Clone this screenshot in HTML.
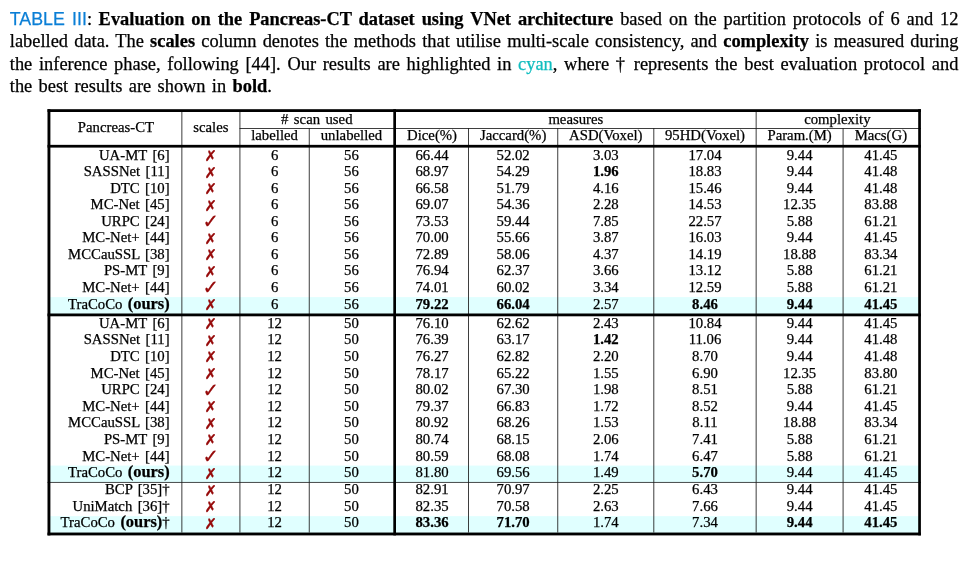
<!DOCTYPE html>
<html lang="en"><head><meta charset="utf-8"><title>Table III</title>
<style>
html,body{margin:0;padding:0;background:#fff;}
body{width:975px;height:562px;position:relative;overflow:hidden;font-family:"Liberation Serif","Times New Roman",Times,serif;color:#000;}
.cap{position:absolute;left:9.8px;width:948.6px;font-size:18.4px;line-height:22.15px;height:22.15px;text-align:justify;text-align-last:justify;white-space:nowrap;}
.cap.last{text-align:left;text-align-last:left;word-spacing:1.7px;}
.sf{font-family:"Liberation Sans",Arial,Helvetica,sans-serif;font-size:17.8px;}
.bl{color:#0b7fd6;}.cy{color:#10bdbf;}
.sp{display:inline-block;width:6.6px;}
.t{position:absolute;font-size:14.75px;line-height:16.6px;height:16.6px;white-space:nowrap;word-spacing:1.7px;}
.c{text-align:center;}.r{text-align:right;}
svg{position:absolute;overflow:visible;}
b{font-weight:bold;}b.o{font-size:16.4px;line-height:0;}
.mx,.mv{position:absolute;font-family:"DejaVu Sans",sans-serif;color:#960909;white-space:nowrap;-webkit-text-stroke:0.4px #960909;}
.mx{left:204.45px;font-size:14.7px;line-height:24px;height:24px;}
.mv{-webkit-text-stroke-width:0.25px;left:202.5px;font-size:19.6px;line-height:24px;height:24px;}
#w{position:absolute;left:0;top:0;width:975px;height:562px;will-change:transform;-webkit-text-stroke-width:0.25px;}
</style></head>
<body><div id="w">
<div class="cap" style="top:8.2px"><span class="sf bl">TABLE III</span>:<span class="sp"></span><b>Evaluation on the Pancreas-CT dataset using VNet architecture</b> based on the partition protocols of 6 and 12</div>
<div class="cap" style="top:30.35px">labelled data. The <b>scales</b> column denotes the methods that utilise multi-scale consistency, and <b>complexity</b> is measured during</div>
<div class="cap" style="top:52.5px">the inference phase, following [44]. Our results are highlighted in <span class="cy">cyan</span>, where &dagger; represents the best evaluation protocol and</div>
<div class="cap last" style="top:74.65px">the best results are shown in <b>bold</b>.</div>
<svg width="975" height="562" style="left:0;top:0" viewBox="0 0 975 562">
<rect x="48.5" y="297.11" width="871.4" height="16.89" fill="#e0ffff"/>
<rect x="48.5" y="465.58" width="871.4" height="16.87" fill="#e0ffff"/>
<rect x="48.5" y="516.15" width="871.4" height="16.9" fill="#e0ffff"/>
<rect x="47.5" y="481.95" width="873.4" height="0.8" fill="#1c1c1c"/>
<rect x="239.5" y="128.05" width="681.4" height="0.85" fill="#1c1c1c"/>
<rect x="181.45" y="112" width="0.85" height="420.55" fill="#1c1c1c"/>
<rect x="239.5" y="112" width="0.85" height="420.55" fill="#1c1c1c"/>
<rect x="755.7" y="112" width="0.85" height="420.55" fill="#1c1c1c"/>
<rect x="308.8" y="128.05" width="0.85" height="404.5" fill="#1c1c1c"/>
<rect x="468.1" y="128.05" width="0.85" height="404.5" fill="#1c1c1c"/>
<rect x="557.35" y="128.05" width="0.85" height="404.5" fill="#1c1c1c"/>
<rect x="653.4" y="128.05" width="0.85" height="404.5" fill="#1c1c1c"/>
<rect x="842.65" y="128.05" width="0.85" height="404.5" fill="#1c1c1c"/>
<rect x="47.5" y="109.2" width="873.4" height="2.8" fill="#000"/>
<rect x="47.5" y="144.85" width="873.4" height="2.75" fill="#000"/>
<rect x="47.5" y="313.5" width="873.4" height="2.8" fill="#000"/>
<rect x="47.5" y="532.55" width="873.4" height="2.85" fill="#000"/>
<rect x="47.5" y="109.2" width="2.9" height="426.2" fill="#000"/>
<rect x="918.2" y="109.2" width="2.7" height="426.2" fill="#000"/>
<rect x="393.3" y="109.2" width="2.7" height="426.2" fill="#000"/>
</svg>
<div class="t c" style="left:50.4px;top:118.72px;width:131.05px">Pancreas-CT</div>
<div class="t c" style="left:182.3px;top:118.72px;width:57.2px">scales</div>
<div class="t c" style="left:240.35px;top:110.62px;width:152.95px"># scan used</div>
<div class="t c" style="left:396px;top:110.62px;width:359.7px">measures</div>
<div class="t c" style="left:756.55px;top:110.62px;width:161.65px">complexity</div>
<div class="t c" style="left:240.35px;top:127.32px;width:68.45px">labelled</div>
<div class="t c" style="left:309.65px;top:127.32px;width:83.65px">unlabelled</div>
<div class="t c" style="left:396px;top:127.32px;width:72.1px">Dice(%)</div>
<div class="t c" style="left:468.95px;top:127.32px;width:88.4px">Jaccard(%)</div>
<div class="t c" style="left:558.2px;top:127.32px;width:95.2px">ASD(Voxel)</div>
<div class="t c" style="left:654.25px;top:127.32px;width:101.45px">95HD(Voxel)</div>
<div class="t c" style="left:756.55px;top:127.32px;width:86.1px">Param.(M)</div>
<div class="t c" style="left:843.5px;top:127.32px;width:74.7px">Macs(G)</div>
<div class="t r" style="left:50.4px;top:146.77px;width:119.25px">UA-MT [6]</div>
<div class="mx" style="top:144.05px">&#10007;</div>
<div class="t c" style="left:240.35px;top:146.77px;width:68.45px">6</div>
<div class="t c" style="left:309.65px;top:146.77px;width:83.65px">56</div>
<div class="t c" style="left:396px;top:146.77px;width:72.1px">66.44</div>
<div class="t c" style="left:468.95px;top:146.77px;width:88.4px">52.02</div>
<div class="t c" style="left:558.2px;top:146.77px;width:95.2px">3.03</div>
<div class="t c" style="left:654.25px;top:146.77px;width:101.45px">17.04</div>
<div class="t c" style="left:756.55px;top:146.77px;width:86.1px">9.44</div>
<div class="t c" style="left:843.5px;top:146.77px;width:74.7px">41.45</div>
<div class="t r" style="left:50.4px;top:163.3px;width:119.25px">SASSNet [11]</div>
<div class="mx" style="top:160.58px">&#10007;</div>
<div class="t c" style="left:240.35px;top:163.3px;width:68.45px">6</div>
<div class="t c" style="left:309.65px;top:163.3px;width:83.65px">56</div>
<div class="t c" style="left:396px;top:163.3px;width:72.1px">68.97</div>
<div class="t c" style="left:468.95px;top:163.3px;width:88.4px">54.29</div>
<div class="t c" style="left:558.2px;top:163.3px;width:95.2px"><b>1.96</b></div>
<div class="t c" style="left:654.25px;top:163.3px;width:101.45px">18.83</div>
<div class="t c" style="left:756.55px;top:163.3px;width:86.1px">9.44</div>
<div class="t c" style="left:843.5px;top:163.3px;width:74.7px">41.48</div>
<div class="t r" style="left:50.4px;top:179.83px;width:119.25px">DTC [10]</div>
<div class="mx" style="top:177.11px">&#10007;</div>
<div class="t c" style="left:240.35px;top:179.83px;width:68.45px">6</div>
<div class="t c" style="left:309.65px;top:179.83px;width:83.65px">56</div>
<div class="t c" style="left:396px;top:179.83px;width:72.1px">66.58</div>
<div class="t c" style="left:468.95px;top:179.83px;width:88.4px">51.79</div>
<div class="t c" style="left:558.2px;top:179.83px;width:95.2px">4.16</div>
<div class="t c" style="left:654.25px;top:179.83px;width:101.45px">15.46</div>
<div class="t c" style="left:756.55px;top:179.83px;width:86.1px">9.44</div>
<div class="t c" style="left:843.5px;top:179.83px;width:74.7px">41.48</div>
<div class="t r" style="left:50.4px;top:196.36px;width:119.25px">MC-Net [45]</div>
<div class="mx" style="top:193.64px">&#10007;</div>
<div class="t c" style="left:240.35px;top:196.36px;width:68.45px">6</div>
<div class="t c" style="left:309.65px;top:196.36px;width:83.65px">56</div>
<div class="t c" style="left:396px;top:196.36px;width:72.1px">69.07</div>
<div class="t c" style="left:468.95px;top:196.36px;width:88.4px">54.36</div>
<div class="t c" style="left:558.2px;top:196.36px;width:95.2px">2.28</div>
<div class="t c" style="left:654.25px;top:196.36px;width:101.45px">14.53</div>
<div class="t c" style="left:756.55px;top:196.36px;width:86.1px">12.35</div>
<div class="t c" style="left:843.5px;top:196.36px;width:74.7px">83.88</div>
<div class="t r" style="left:50.4px;top:212.89px;width:119.25px">URPC [24]</div>
<div class="mv" style="top:210.17px">&#10003;</div>
<div class="t c" style="left:240.35px;top:212.89px;width:68.45px">6</div>
<div class="t c" style="left:309.65px;top:212.89px;width:83.65px">56</div>
<div class="t c" style="left:396px;top:212.89px;width:72.1px">73.53</div>
<div class="t c" style="left:468.95px;top:212.89px;width:88.4px">59.44</div>
<div class="t c" style="left:558.2px;top:212.89px;width:95.2px">7.85</div>
<div class="t c" style="left:654.25px;top:212.89px;width:101.45px">22.57</div>
<div class="t c" style="left:756.55px;top:212.89px;width:86.1px">5.88</div>
<div class="t c" style="left:843.5px;top:212.89px;width:74.7px">61.21</div>
<div class="t r" style="left:50.4px;top:229.42px;width:119.25px">MC-Net+ [44]</div>
<div class="mx" style="top:226.7px">&#10007;</div>
<div class="t c" style="left:240.35px;top:229.42px;width:68.45px">6</div>
<div class="t c" style="left:309.65px;top:229.42px;width:83.65px">56</div>
<div class="t c" style="left:396px;top:229.42px;width:72.1px">70.00</div>
<div class="t c" style="left:468.95px;top:229.42px;width:88.4px">55.66</div>
<div class="t c" style="left:558.2px;top:229.42px;width:95.2px">3.87</div>
<div class="t c" style="left:654.25px;top:229.42px;width:101.45px">16.03</div>
<div class="t c" style="left:756.55px;top:229.42px;width:86.1px">9.44</div>
<div class="t c" style="left:843.5px;top:229.42px;width:74.7px">41.45</div>
<div class="t r" style="left:50.4px;top:245.95px;width:119.25px">MCCauSSL [38]</div>
<div class="mx" style="top:243.23px">&#10007;</div>
<div class="t c" style="left:240.35px;top:245.95px;width:68.45px">6</div>
<div class="t c" style="left:309.65px;top:245.95px;width:83.65px">56</div>
<div class="t c" style="left:396px;top:245.95px;width:72.1px">72.89</div>
<div class="t c" style="left:468.95px;top:245.95px;width:88.4px">58.06</div>
<div class="t c" style="left:558.2px;top:245.95px;width:95.2px">4.37</div>
<div class="t c" style="left:654.25px;top:245.95px;width:101.45px">14.19</div>
<div class="t c" style="left:756.55px;top:245.95px;width:86.1px">18.88</div>
<div class="t c" style="left:843.5px;top:245.95px;width:74.7px">83.34</div>
<div class="t r" style="left:50.4px;top:262.48px;width:119.25px">PS-MT [9]</div>
<div class="mx" style="top:259.76px">&#10007;</div>
<div class="t c" style="left:240.35px;top:262.48px;width:68.45px">6</div>
<div class="t c" style="left:309.65px;top:262.48px;width:83.65px">56</div>
<div class="t c" style="left:396px;top:262.48px;width:72.1px">76.94</div>
<div class="t c" style="left:468.95px;top:262.48px;width:88.4px">62.37</div>
<div class="t c" style="left:558.2px;top:262.48px;width:95.2px">3.66</div>
<div class="t c" style="left:654.25px;top:262.48px;width:101.45px">13.12</div>
<div class="t c" style="left:756.55px;top:262.48px;width:86.1px">5.88</div>
<div class="t c" style="left:843.5px;top:262.48px;width:74.7px">61.21</div>
<div class="t r" style="left:50.4px;top:279.01px;width:119.25px">MC-Net+ [44]</div>
<div class="mv" style="top:276.29px">&#10003;</div>
<div class="t c" style="left:240.35px;top:279.01px;width:68.45px">6</div>
<div class="t c" style="left:309.65px;top:279.01px;width:83.65px">56</div>
<div class="t c" style="left:396px;top:279.01px;width:72.1px">74.01</div>
<div class="t c" style="left:468.95px;top:279.01px;width:88.4px">60.02</div>
<div class="t c" style="left:558.2px;top:279.01px;width:95.2px">3.34</div>
<div class="t c" style="left:654.25px;top:279.01px;width:101.45px">12.59</div>
<div class="t c" style="left:756.55px;top:279.01px;width:86.1px">5.88</div>
<div class="t c" style="left:843.5px;top:279.01px;width:74.7px">61.21</div>
<div class="t r" style="left:50.4px;top:295.54px;width:119.25px">TraCoCo <b class=o>(ours)</b></div>
<div class="mx" style="top:292.82px">&#10007;</div>
<div class="t c" style="left:240.35px;top:295.54px;width:68.45px">6</div>
<div class="t c" style="left:309.65px;top:295.54px;width:83.65px">56</div>
<div class="t c" style="left:396px;top:295.54px;width:72.1px"><b>79.22</b></div>
<div class="t c" style="left:468.95px;top:295.54px;width:88.4px"><b>66.04</b></div>
<div class="t c" style="left:558.2px;top:295.54px;width:95.2px">2.57</div>
<div class="t c" style="left:654.25px;top:295.54px;width:101.45px"><b>8.46</b></div>
<div class="t c" style="left:756.55px;top:295.54px;width:86.1px"><b>9.44</b></div>
<div class="t c" style="left:843.5px;top:295.54px;width:74.7px"><b>41.45</b></div>
<div class="t r" style="left:50.4px;top:314.82px;width:119.25px">UA-MT [6]</div>
<div class="mx" style="top:312.1px">&#10007;</div>
<div class="t c" style="left:240.35px;top:314.82px;width:68.45px">12</div>
<div class="t c" style="left:309.65px;top:314.82px;width:83.65px">50</div>
<div class="t c" style="left:396px;top:314.82px;width:72.1px">76.10</div>
<div class="t c" style="left:468.95px;top:314.82px;width:88.4px">62.62</div>
<div class="t c" style="left:558.2px;top:314.82px;width:95.2px">2.43</div>
<div class="t c" style="left:654.25px;top:314.82px;width:101.45px">10.84</div>
<div class="t c" style="left:756.55px;top:314.82px;width:86.1px">9.44</div>
<div class="t c" style="left:843.5px;top:314.82px;width:74.7px">41.45</div>
<div class="t r" style="left:50.4px;top:331.42px;width:119.25px">SASSNet [11]</div>
<div class="mx" style="top:328.7px">&#10007;</div>
<div class="t c" style="left:240.35px;top:331.42px;width:68.45px">12</div>
<div class="t c" style="left:309.65px;top:331.42px;width:83.65px">50</div>
<div class="t c" style="left:396px;top:331.42px;width:72.1px">76.39</div>
<div class="t c" style="left:468.95px;top:331.42px;width:88.4px">63.17</div>
<div class="t c" style="left:558.2px;top:331.42px;width:95.2px"><b>1.42</b></div>
<div class="t c" style="left:654.25px;top:331.42px;width:101.45px">11.06</div>
<div class="t c" style="left:756.55px;top:331.42px;width:86.1px">9.44</div>
<div class="t c" style="left:843.5px;top:331.42px;width:74.7px">41.48</div>
<div class="t r" style="left:50.4px;top:348.02px;width:119.25px">DTC [10]</div>
<div class="mx" style="top:345.3px">&#10007;</div>
<div class="t c" style="left:240.35px;top:348.02px;width:68.45px">12</div>
<div class="t c" style="left:309.65px;top:348.02px;width:83.65px">50</div>
<div class="t c" style="left:396px;top:348.02px;width:72.1px">76.27</div>
<div class="t c" style="left:468.95px;top:348.02px;width:88.4px">62.82</div>
<div class="t c" style="left:558.2px;top:348.02px;width:95.2px">2.20</div>
<div class="t c" style="left:654.25px;top:348.02px;width:101.45px">8.70</div>
<div class="t c" style="left:756.55px;top:348.02px;width:86.1px">9.44</div>
<div class="t c" style="left:843.5px;top:348.02px;width:74.7px">41.48</div>
<div class="t r" style="left:50.4px;top:364.62px;width:119.25px">MC-Net [45]</div>
<div class="mx" style="top:361.9px">&#10007;</div>
<div class="t c" style="left:240.35px;top:364.62px;width:68.45px">12</div>
<div class="t c" style="left:309.65px;top:364.62px;width:83.65px">50</div>
<div class="t c" style="left:396px;top:364.62px;width:72.1px">78.17</div>
<div class="t c" style="left:468.95px;top:364.62px;width:88.4px">65.22</div>
<div class="t c" style="left:558.2px;top:364.62px;width:95.2px">1.55</div>
<div class="t c" style="left:654.25px;top:364.62px;width:101.45px">6.90</div>
<div class="t c" style="left:756.55px;top:364.62px;width:86.1px">12.35</div>
<div class="t c" style="left:843.5px;top:364.62px;width:74.7px">83.80</div>
<div class="t r" style="left:50.4px;top:381.22px;width:119.25px">URPC [24]</div>
<div class="mv" style="top:378.5px">&#10003;</div>
<div class="t c" style="left:240.35px;top:381.22px;width:68.45px">12</div>
<div class="t c" style="left:309.65px;top:381.22px;width:83.65px">50</div>
<div class="t c" style="left:396px;top:381.22px;width:72.1px">80.02</div>
<div class="t c" style="left:468.95px;top:381.22px;width:88.4px">67.30</div>
<div class="t c" style="left:558.2px;top:381.22px;width:95.2px">1.98</div>
<div class="t c" style="left:654.25px;top:381.22px;width:101.45px">8.51</div>
<div class="t c" style="left:756.55px;top:381.22px;width:86.1px">5.88</div>
<div class="t c" style="left:843.5px;top:381.22px;width:74.7px">61.21</div>
<div class="t r" style="left:50.4px;top:397.82px;width:119.25px">MC-Net+ [44]</div>
<div class="mx" style="top:395.1px">&#10007;</div>
<div class="t c" style="left:240.35px;top:397.82px;width:68.45px">12</div>
<div class="t c" style="left:309.65px;top:397.82px;width:83.65px">50</div>
<div class="t c" style="left:396px;top:397.82px;width:72.1px">79.37</div>
<div class="t c" style="left:468.95px;top:397.82px;width:88.4px">66.83</div>
<div class="t c" style="left:558.2px;top:397.82px;width:95.2px">1.72</div>
<div class="t c" style="left:654.25px;top:397.82px;width:101.45px">8.52</div>
<div class="t c" style="left:756.55px;top:397.82px;width:86.1px">9.44</div>
<div class="t c" style="left:843.5px;top:397.82px;width:74.7px">41.45</div>
<div class="t r" style="left:50.4px;top:414.42px;width:119.25px">MCCauSSL [38]</div>
<div class="mx" style="top:411.7px">&#10007;</div>
<div class="t c" style="left:240.35px;top:414.42px;width:68.45px">12</div>
<div class="t c" style="left:309.65px;top:414.42px;width:83.65px">50</div>
<div class="t c" style="left:396px;top:414.42px;width:72.1px">80.92</div>
<div class="t c" style="left:468.95px;top:414.42px;width:88.4px">68.26</div>
<div class="t c" style="left:558.2px;top:414.42px;width:95.2px">1.53</div>
<div class="t c" style="left:654.25px;top:414.42px;width:101.45px">8.11</div>
<div class="t c" style="left:756.55px;top:414.42px;width:86.1px">18.88</div>
<div class="t c" style="left:843.5px;top:414.42px;width:74.7px">83.34</div>
<div class="t r" style="left:50.4px;top:431.02px;width:119.25px">PS-MT [9]</div>
<div class="mx" style="top:428.3px">&#10007;</div>
<div class="t c" style="left:240.35px;top:431.02px;width:68.45px">12</div>
<div class="t c" style="left:309.65px;top:431.02px;width:83.65px">50</div>
<div class="t c" style="left:396px;top:431.02px;width:72.1px">80.74</div>
<div class="t c" style="left:468.95px;top:431.02px;width:88.4px">68.15</div>
<div class="t c" style="left:558.2px;top:431.02px;width:95.2px">2.06</div>
<div class="t c" style="left:654.25px;top:431.02px;width:101.45px">7.41</div>
<div class="t c" style="left:756.55px;top:431.02px;width:86.1px">5.88</div>
<div class="t c" style="left:843.5px;top:431.02px;width:74.7px">61.21</div>
<div class="t r" style="left:50.4px;top:447.62px;width:119.25px">MC-Net+ [44]</div>
<div class="mv" style="top:444.9px">&#10003;</div>
<div class="t c" style="left:240.35px;top:447.62px;width:68.45px">12</div>
<div class="t c" style="left:309.65px;top:447.62px;width:83.65px">50</div>
<div class="t c" style="left:396px;top:447.62px;width:72.1px">80.59</div>
<div class="t c" style="left:468.95px;top:447.62px;width:88.4px">68.08</div>
<div class="t c" style="left:558.2px;top:447.62px;width:95.2px">1.74</div>
<div class="t c" style="left:654.25px;top:447.62px;width:101.45px">6.47</div>
<div class="t c" style="left:756.55px;top:447.62px;width:86.1px">5.88</div>
<div class="t c" style="left:843.5px;top:447.62px;width:74.7px">61.21</div>
<div class="t r" style="left:50.4px;top:464.22px;width:119.25px">TraCoCo <b class=o>(ours)</b></div>
<div class="mx" style="top:461.5px">&#10007;</div>
<div class="t c" style="left:240.35px;top:464.22px;width:68.45px">12</div>
<div class="t c" style="left:309.65px;top:464.22px;width:83.65px">50</div>
<div class="t c" style="left:396px;top:464.22px;width:72.1px">81.80</div>
<div class="t c" style="left:468.95px;top:464.22px;width:88.4px">69.56</div>
<div class="t c" style="left:558.2px;top:464.22px;width:95.2px">1.49</div>
<div class="t c" style="left:654.25px;top:464.22px;width:101.45px"><b>5.70</b></div>
<div class="t c" style="left:756.55px;top:464.22px;width:86.1px">9.44</div>
<div class="t c" style="left:843.5px;top:464.22px;width:74.7px">41.45</div>
<div class="t r" style="left:50.4px;top:481.22px;width:119.25px">BCP [35]&dagger;</div>
<div class="mx" style="top:478.5px">&#10007;</div>
<div class="t c" style="left:240.35px;top:481.22px;width:68.45px">12</div>
<div class="t c" style="left:309.65px;top:481.22px;width:83.65px">50</div>
<div class="t c" style="left:396px;top:481.22px;width:72.1px">82.91</div>
<div class="t c" style="left:468.95px;top:481.22px;width:88.4px">70.97</div>
<div class="t c" style="left:558.2px;top:481.22px;width:95.2px">2.25</div>
<div class="t c" style="left:654.25px;top:481.22px;width:101.45px">6.43</div>
<div class="t c" style="left:756.55px;top:481.22px;width:86.1px">9.44</div>
<div class="t c" style="left:843.5px;top:481.22px;width:74.7px">41.45</div>
<div class="t r" style="left:50.4px;top:497.82px;width:119.25px">UniMatch [36]&dagger;</div>
<div class="mx" style="top:495.1px">&#10007;</div>
<div class="t c" style="left:240.35px;top:497.82px;width:68.45px">12</div>
<div class="t c" style="left:309.65px;top:497.82px;width:83.65px">50</div>
<div class="t c" style="left:396px;top:497.82px;width:72.1px">82.35</div>
<div class="t c" style="left:468.95px;top:497.82px;width:88.4px">70.58</div>
<div class="t c" style="left:558.2px;top:497.82px;width:95.2px">2.63</div>
<div class="t c" style="left:654.25px;top:497.82px;width:101.45px">7.66</div>
<div class="t c" style="left:756.55px;top:497.82px;width:86.1px">9.44</div>
<div class="t c" style="left:843.5px;top:497.82px;width:74.7px">41.45</div>
<div class="t r" style="left:50.4px;top:514.42px;width:119.25px">TraCoCo <b class=o>(ours)</b>&dagger;</div>
<div class="mx" style="top:511.7px">&#10007;</div>
<div class="t c" style="left:240.35px;top:514.42px;width:68.45px">12</div>
<div class="t c" style="left:309.65px;top:514.42px;width:83.65px">50</div>
<div class="t c" style="left:396px;top:514.42px;width:72.1px"><b>83.36</b></div>
<div class="t c" style="left:468.95px;top:514.42px;width:88.4px"><b>71.70</b></div>
<div class="t c" style="left:558.2px;top:514.42px;width:95.2px">1.74</div>
<div class="t c" style="left:654.25px;top:514.42px;width:101.45px">7.34</div>
<div class="t c" style="left:756.55px;top:514.42px;width:86.1px"><b>9.44</b></div>
<div class="t c" style="left:843.5px;top:514.42px;width:74.7px"><b>41.45</b></div>
</div></body></html>
